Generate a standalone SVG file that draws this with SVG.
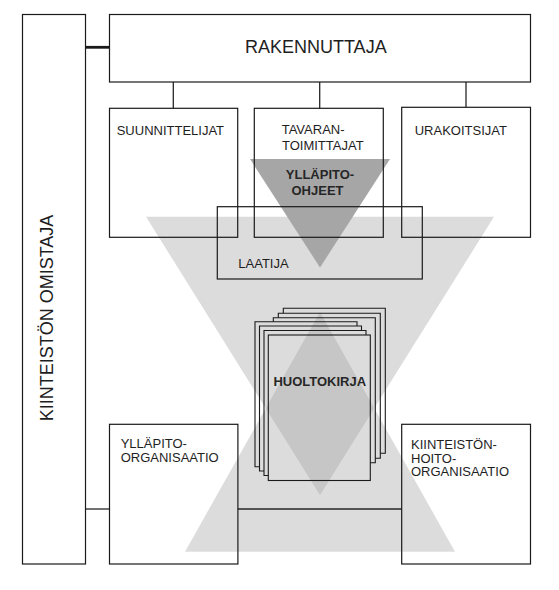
<svg xmlns="http://www.w3.org/2000/svg" width="559" height="590" viewBox="0 0 559 590">
<style>
.box{fill:none;stroke:#1a1a1a;stroke-width:1.2}
.conn{fill:none;stroke:#262626;stroke-width:1.3}
.page{fill:none;stroke:#1a1a1a;stroke-width:1.1}
.t{font-family:"Liberation Sans",Arial,sans-serif;font-size:13px;fill:#1e1e1e}
.b{font-weight:bold;fill:#262626}
.big{font-size:18px}
.light{fill:#dcdcdc}
.mid{fill:#c6c6c6}
.dark{fill:#a6a6a6}
</style>
<rect x="0" y="0" width="559" height="590" fill="#ffffff"/>
<g id="shading">
<polygon class="light" points="146,216.7 494,216.7 320,495"/>
<polygon class="light" points="320,312 455,551.7 185,551.7"/>
<polygon class="mid" points="320,312 374.2,408.3 320,495 265.8,408.3"/>
<polygon class="dark" points="250,159 390,159 320,267.5"/>
</g>
<g id="connectors">
<line class="conn" x1="85.3" y1="47.3" x2="109.5" y2="47.3" style="stroke:#1a1a1a;stroke-width:2.8"/>
<line class="conn" x1="173.3" y1="82" x2="173.3" y2="108.3"/>
<line class="conn" x1="319.7" y1="82" x2="319.7" y2="108.3"/>
<line class="conn" x1="466" y1="82" x2="466" y2="107.3"/>
<line class="conn" x1="85.3" y1="509" x2="109.5" y2="509"/>
<line class="conn" x1="237.9" y1="509" x2="401.7" y2="509"/>
</g>
<g id="kiinteiston-omistaja">
<rect class="box" x="22.5" y="14.5" width="63" height="549.5"/>
<text class="t big" text-anchor="middle" transform="translate(52.7,318) rotate(-90)">KIINTEISTÖN OMISTAJA</text>
</g>
<g id="rakennuttaja">
<rect class="box" x="109.5" y="14.5" width="421" height="67.5"/>
<text class="t big" x="315.8" y="53.3" text-anchor="middle">RAKENNUTTAJA</text>
</g>
<g id="suunnittelijat">
<rect class="box" x="109.5" y="108.3" width="128.2" height="129"/>
<text class="t" x="116.7" y="134.5">SUUNNITTELIJAT</text>
</g>
<g id="tavarantoimittajat">
<rect class="box" x="254.3" y="108.3" width="129" height="129"/>
<text class="t" x="281.7" y="133.5">TAVARAN-</text>
<text class="t" x="282" y="149.5">TOIMITTAJAT</text>
</g>
<g id="urakoitsijat">
<rect class="box" x="401.7" y="107.3" width="128.8" height="130"/>
<text class="t" x="414.7" y="135">URAKOITSIJAT</text>
</g>
<g id="yllapito-ohjeet">
<text class="t b" x="320" y="178.5" text-anchor="middle">YLLÄPITO-</text>
<text class="t b" x="317.5" y="195" text-anchor="middle">OHJEET</text>
</g>
<g id="laatija">
<rect class="box" x="217.3" y="206.7" width="205" height="72.3"/>
<text class="t" x="238.3" y="268.3">LAATIJA</text>
</g>
<g id="huoltokirja">
<path class="page" d="M283.3,313.3 V308.3 H385.3 V453.3 H380.3"/>
<path class="page" d="M278.3,317.7 V313.3 H380.3 V458.3 H375.3"/>
<path class="page" d="M273.3,321.7 V317.7 H375.3 V462.7 H370.3"/>
<path class="page" d="M259.5,466.7 H255 V321.7 H357 V326"/>
<path class="page" d="M264,471 H259.5 V326 H361.5 V330.5"/>
<path class="page" d="M268.3,475.5 H264 V330.5 H366 V335"/>
<rect class="page" x="268.3" y="335" width="102" height="145.5"/>
<text class="t b" x="319.8" y="386" text-anchor="middle">HUOLTOKIRJA</text>
</g>
<g id="yllapito-organisaatio">
<rect class="box" x="109.5" y="424.3" width="128.4" height="139.7"/>
<text class="t" x="120.7" y="448">YLLÄPITO-</text>
<text class="t" x="120.7" y="462">ORGANISAATIO</text>
</g>
<g id="kiinteistonhoito-organisaatio">
<rect class="box" x="401.7" y="424.3" width="128.8" height="139.7"/>
<text class="t" x="411" y="449">KIINTEISTÖN-</text>
<text class="t" x="411" y="462.7">HOITO-</text>
<text class="t" x="411" y="476.3">ORGANISAATIO</text>
</g>
</svg>
